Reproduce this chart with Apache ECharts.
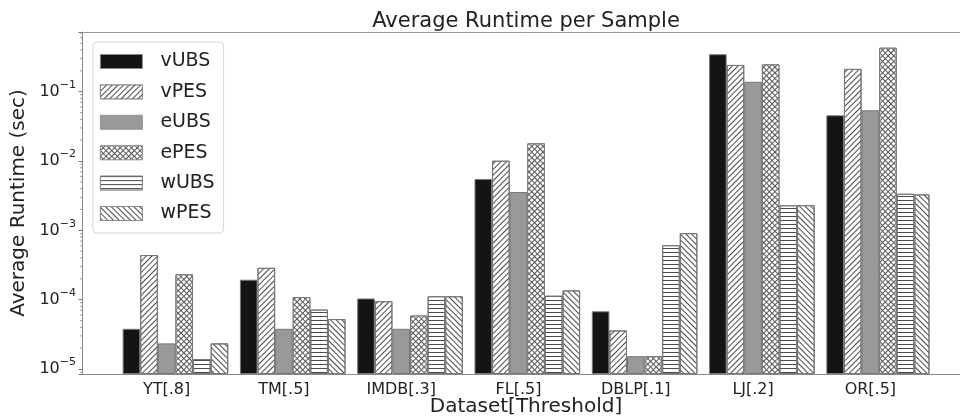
<!DOCTYPE html>
<html>
<head>
<meta charset="utf-8">
<script src="https://cdn.jsdelivr.net/npm/echarts@6/dist/echarts.min.js"></script>
<style>
  html, body { margin: 0; padding: 0; background: #fff; }
  #chart { width: 960px; height: 419px; }
</style>
</head>
<body>
<div id="chart"></div>
<script>
const categories = ['YT[.8]', 'TM[.5]', 'IMDB[.3]', 'FL[.5]', 'DBLP[.1]', 'LJ[.2]', 'OR[.5]'];
const seriesNames = ['vUBS', 'vPES', 'eUBS', 'ePES', 'wUBS', 'wPES'];

const vUBS = [3.8e-5, 1.94e-4, 1.04e-4, 5.5e-3, 6.8e-5, 0.347, 4.56e-2];
const vPES = [4.4e-4, 2.88e-4, 9.5e-5, 1.01e-2, 3.6e-5, 0.243, 0.213];
const eUBS = [2.34e-5, 3.8e-5, 3.8e-5, 3.57e-3, 1.53e-5, 0.139, 5.4e-2];
const ePES = [2.32e-4, 1.09e-4, 5.9e-5, 1.8e-2, 1.53e-5, 0.248, 0.431];
const wUBS = [1.39e-5, 7.2e-5, 1.12e-4, 1.14e-4, 6.1e-4, 2.3e-3, 3.37e-3];
const wPES = [2.34e-5, 5.25e-5, 1.12e-4, 1.36e-4, 9.1e-4, 2.31e-3, 3.3e-3];

const yMin = 8.47e-6;
const yMax = 0.726;
const minorTicks = [
  9e-6,
  2e-5, 3e-5, 4e-5, 5e-5, 6e-5, 7e-5, 8e-5, 9e-5,
  2e-4, 3e-4, 4e-4, 5e-4, 6e-4, 7e-4, 8e-4, 9e-4,
  2e-3, 3e-3, 4e-3, 5e-3, 6e-3, 7e-3, 8e-3, 9e-3,
  2e-2, 3e-2, 4e-2, 5e-2, 6e-2, 7e-2, 8e-2, 9e-2,
  0.2, 0.3, 0.4, 0.5, 0.6, 0.7
];

const chart = echarts.init(document.getElementById('chart'));

const edge = '#777';
const hatch = '#4a4a4a';
const BAR_W = 17.6;

// fill + decal per series, roughly like the matplotlib hatches
const looks = {
  vUBS: { color: '#141414' },
  vPES: { color: '#fff', decal: { symbol: 'rect', symbolSize: 1, color: hatch, dashArrayX: [1, 0], dashArrayY: [1, 3], rotation: -Math.PI / 4 } },
  eUBS: { color: '#999' },
  ePES: { color: '#555', decal: { symbol: 'rect', symbolSize: 1, color: '#fff', dashArrayX: [3, 1], dashArrayY: [3, 1], rotation: Math.PI / 4 } },
  wUBS: { color: '#fff', decal: { symbol: 'rect', symbolSize: 1, color: hatch, dashArrayX: [1, 0], dashArrayY: [1, 3], rotation: 0 } },
  wPES: { color: '#fff', decal: { symbol: 'rect', symbolSize: 1, color: hatch, dashArrayX: [1, 0], dashArrayY: [1, 3], rotation: Math.PI / 4 } }
};
const values = { vUBS, vPES, eUBS, ePES, wUBS, wPES };

const barSeries = seriesNames.map(name => ({
  name: name,
  type: 'bar',
  xAxisIndex: 0,
  yAxisIndex: 0,
  barWidth: BAR_W,
  barGap: '0%',
  data: values[name],
  itemStyle: Object.assign({ borderColor: edge, borderWidth: 1 }, looks[name])
}));

const sup = function (v) {
  const e = Math.log10(v);
  if (Math.abs(e - Math.round(e)) > 1e-6) return '';
  return '{b|10}{s|\u2212' + (-Math.round(e)) + '}';
};

const option = {
  animation: false,
  textStyle: { fontFamily: 'DejaVu Sans', color: '#222' },
  title: {
    text: 'Average Runtime per Sample',
    left: 521,
    textAlign: 'center',
    top: 6,
    textStyle: { fontSize: 21, fontWeight: 'normal', color: '#222', fontFamily: 'DejaVu Sans' }
  },
  legend: {
    data: seriesNames,
    orient: 'vertical',
    left: 93,
    top: 42,
    icon: 'rect',
    itemWidth: 42,
    itemHeight: 14,
    itemGap: 11.4,
    padding: [10, 9, 10, 7],
    backgroundColor: '#fff',
    borderColor: '#d6d6d6',
    borderWidth: 1,
    borderRadius: 4,
    itemStyle: { borderColor: '#888', borderWidth: 0.8 },
    textStyle: { fontSize: 19, color: '#222', padding: [0, 0, 0, 13] }
  },
  grid: [
    { left: 108, top: 32, width: 821, height: 342, outerBoundsMode: 'none', containLabel: false },
    { left: 82, top: 32, width: 888, height: 342, outerBoundsMode: 'none', containLabel: false }
  ],
  xAxis: [
    {
      type: 'category',
      gridIndex: 0,
      data: categories,
      axisLine: { show: false },
      axisTick: { alignWithLabel: true, length: 3.5, lineStyle: { color: '#777' } },
      axisLabel: { fontSize: 16, color: '#222', margin: 8 }
    },
    {
      type: 'value',
      gridIndex: 1,
      min: 0,
      max: 1,
      position: 'bottom',
      axisLine: { show: true, lineStyle: { color: '#888' } },
      axisTick: { show: false },
      axisLabel: { show: false },
      splitLine: { show: false },
      name: 'Dataset[Threshold]',
      nameLocation: 'middle',
      nameGap: 23,
      nameTextStyle: { fontSize: 20, color: '#222' }
    },
    {
      type: 'value',
      gridIndex: 1,
      min: 0,
      max: 1,
      position: 'top',
      axisLine: { show: true, lineStyle: { color: '#999' } },
      axisTick: { show: false },
      axisLabel: { show: false },
      splitLine: { show: false }
    }
  ],
  yAxis: [
    {
      type: 'log',
      gridIndex: 0,
      min: yMin,
      max: yMax,
      startValue: yMin,
      show: false
    },
    {
      type: 'log',
      gridIndex: 1,
      min: yMin,
      max: yMax,
      axisLine: { show: true, lineStyle: { color: '#888' } },
      axisTick: { show: true, length: 3.5, lineStyle: { color: '#777' } },
      splitLine: { show: false },
      axisLabel: {
        margin: 6,
        formatter: sup,
        rich: {
          b: { fontSize: 16, lineHeight: 24, color: '#222' },
          s: { fontSize: 11, lineHeight: 13, verticalAlign: 'top', color: '#222' }
        }
      },
      name: 'Average Runtime (sec)',
      nameLocation: 'middle',
      nameGap: 47,
      nameTextStyle: { fontSize: 20, color: '#222' }
    }
  ],
  series: [
    // empty slot so the eUBS bar sits on the tick, as in the original layout
    { name: '_pad', type: 'bar', xAxisIndex: 0, yAxisIndex: 0, barWidth: BAR_W, barGap: '0%', data: [], silent: true }
  ].concat(barSeries).concat([
    {
      type: 'custom',
      xAxisIndex: 1,
      yAxisIndex: 1,
      silent: true,
      data: minorTicks.map(v => [0, v]),
      renderItem: function (params, api) {
        const p = api.coord([0, api.value(1)]);
        return {
          type: 'line',
          shape: { x1: p[0] - 2, y1: p[1], x2: p[0], y2: p[1] },
          style: { stroke: '#888', lineWidth: 0.8 }
        };
      }
    }
  ])
};

chart.setOption(option);
</script>
</body>
</html>
